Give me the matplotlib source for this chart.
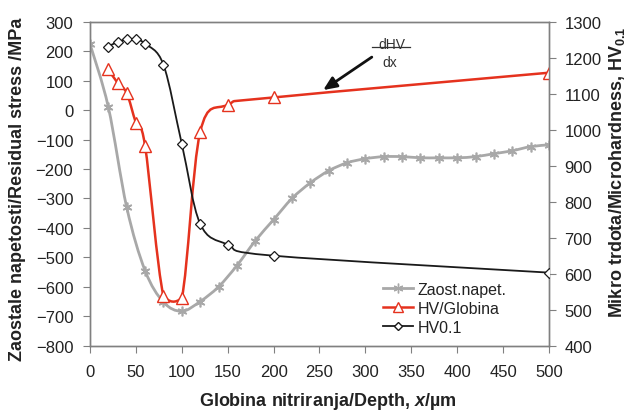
import numpy as np
import matplotlib
matplotlib.use("Agg")
import matplotlib.pyplot as plt
from matplotlib.path import Path
from matplotlib.patches import PathPatch
from matplotlib.lines import Line2D

plt.rcParams['font.family'] = ['Liberation Sans', 'DejaVu Sans']
plt.rcParams['mathtext.fontset'] = 'custom'
plt.rcParams['mathtext.rm'] = 'Liberation Sans'
plt.rcParams['mathtext.it'] = 'Liberation Sans:italic'
plt.rcParams['mathtext.bf'] = 'Liberation Sans:bold'
plt.rcParams['mathtext.bfit'] = 'Liberation Sans:bold:italic'

# ---- data ----
stress_depth = [0, 20, 40, 60, 80, 100, 120, 140, 160, 180, 200, 220, 240, 260, 280,
                300, 320, 340, 360, 380, 400, 420, 440, 460, 480, 500]
stress_val = [225, 10, -330, -545, -652, -683, -650, -600, -528, -444, -372, -300, -247, -206, -179,
              -165, -158, -158, -162, -162, -162, -158, -148, -138, -124, -118]

dhv_depth = [20, 30, 40, 50, 60, 80, 100, 120, 150, 200, 500]
dhv_val = [138, 93, 58, -43, -121, -630, -638, -75, 18, 43, 127]

hv_depth = [20, 30, 40, 50, 60, 80, 100, 120, 150, 200, 500]
hv_val = [1231, 1244, 1251, 1251, 1239, 1181, 961, 739, 681, 650, 603]

xticks = list(range(0, 501, 50))
yticks_left = list(range(-800, 301, 100))
yticks_right = list(range(400, 1301, 100))

legend_labels = ["Zaost.napet.", "HV/Globina", "HV0.1"]


def smooth_path(xs, ys, t=1/6.0, clamp=False):
    xs = np.asarray(xs, float); ys = np.asarray(ys, float)
    pts = np.column_stack([xs, ys])
    n = len(pts)
    verts = [pts[0]]; codes = [Path.MOVETO]
    for i in range(n - 1):
        p0 = pts[i - 1] if i > 0 else pts[i]
        p1 = pts[i]; p2 = pts[i + 1]
        p3 = pts[i + 2] if i + 2 < n else pts[i + 1]
        c1 = p1 + (p2 - p0) * t
        c2 = p2 - (p3 - p1) * t
        if clamp:
            lo, hi = min(p1[1], p2[1]), max(p1[1], p2[1])
            pad = 0.35 * (hi - lo) + 15
            c1[1] = np.clip(c1[1], lo - pad, hi + pad)
            c2[1] = np.clip(c2[1], lo - pad, hi + pad)
        verts += [c1, c2, p2]; codes += [Path.CURVE4] * 3
    return Path(verts, codes)


fig = plt.figure(figsize=(6.27, 4.14), dpi=100)
ax = fig.add_axes([0.1435, 0.1626, 0.8756 - 0.1435, 0.945 - 0.1626])
ax2 = ax.twinx()

grey = '#a8a8a8'
red = '#e5321e'
black = '#1a1a1a'

ax.add_patch(PathPatch(smooth_path(stress_depth, stress_val), fill=False, ec=grey, lw=2.0, zorder=2))
ax.plot(stress_depth, stress_val, ls='none', marker=(6, 2, 0), ms=7, mec=grey, mew=1.2, zorder=3)

ax.add_patch(PathPatch(smooth_path(dhv_depth, dhv_val, clamp=True), fill=False, ec=red, lw=1.8, zorder=4))
ax.plot(dhv_depth, dhv_val, ls='none', marker='^', ms=8, mfc='white', mec=red, mew=1.0, zorder=5)

ax2.add_patch(PathPatch(smooth_path(hv_depth, hv_val), fill=False, ec=black, lw=1.3, zorder=4))
ax2.plot(hv_depth, hv_val, ls='none', marker='D', ms=5.5, mfc='white', mec=black, mew=0.9, zorder=5)

ax.set_xlim(0, 500)
ax.set_ylim(-800, 300)
ax2.set_ylim(400, 1300)
ax.set_xticks(xticks)
ax.set_yticks(yticks_left)
ax2.set_yticks(yticks_right)

spc = '#808080'
for a in (ax, ax2):
    for s in a.spines.values():
        s.set_color(spc)
        s.set_linewidth(1.0)
ax.tick_params(axis='both', direction='out', length=5, color=spc, labelsize=12, labelcolor='#222222')
ax.tick_params(axis='x', pad=8)
ax.tick_params(axis='y', pad=7)
ax2.tick_params(axis='y', direction='out', length=5, color=spc, labelsize=12, labelcolor='#222222', pad=6)

fig.text(327.5 / 627, 1 - 402 / 414, "Globina nitriranja/Depth, $\\mathbfit{x}$/µm",
         fontsize=13, fontweight='bold', ha='center', va='center', color='#222222')
fig.text(17.5 / 627, 1 - 189 / 414, "Zaostale napetosti/Residual stress /MPa",
         fontsize=13, fontweight='bold', ha='center', va='center', rotation=90, color='#222222')
fig.text(617 / 627, 1 - 172 / 414, "Mikro trdota/Microhardness, HV$_{\\mathbf{0.1}}$",
         fontsize=13, fontweight='bold', ha='center', va='center', rotation=90, color='#222222')

# annotation
ax.text(329, 226, "dHV", ha='center', va='center', fontsize=10, color='#333333')
ax.plot([307, 349], [215, 215], color='#333333', lw=0.9)
ax.text(327, 163, "dx", ha='center', va='center', fontsize=10, color='#333333')
ax.annotate("", xy=(254, 68), xytext=(307, 180),
            arrowprops=dict(arrowstyle='-|>,head_length=0.8,head_width=0.35', color='#111111', lw=2.0,
                            shrinkA=0, shrinkB=0))

handles = [
    Line2D([], [], color=grey, lw=2.0, marker=(6, 2, 0), ms=7, mec=grey),
    Line2D([], [], color=red, lw=1.8, marker='^', ms=7, mfc='white', mec=red),
    Line2D([], [], color=black, lw=1.3, marker='D', ms=4, mfc='white', mec=black),
]
leg = ax.legend(handles, legend_labels, loc='upper left', bbox_to_anchor=(0.638, 0.198),
                frameon=False, fontsize=11.5, handlelength=1.9, handletextpad=0.3,
                labelspacing=0.25, borderaxespad=0, borderpad=0)
for t in leg.get_texts():
    t.set_color('#222222')

fig.savefig("out.png", dpi=100)
